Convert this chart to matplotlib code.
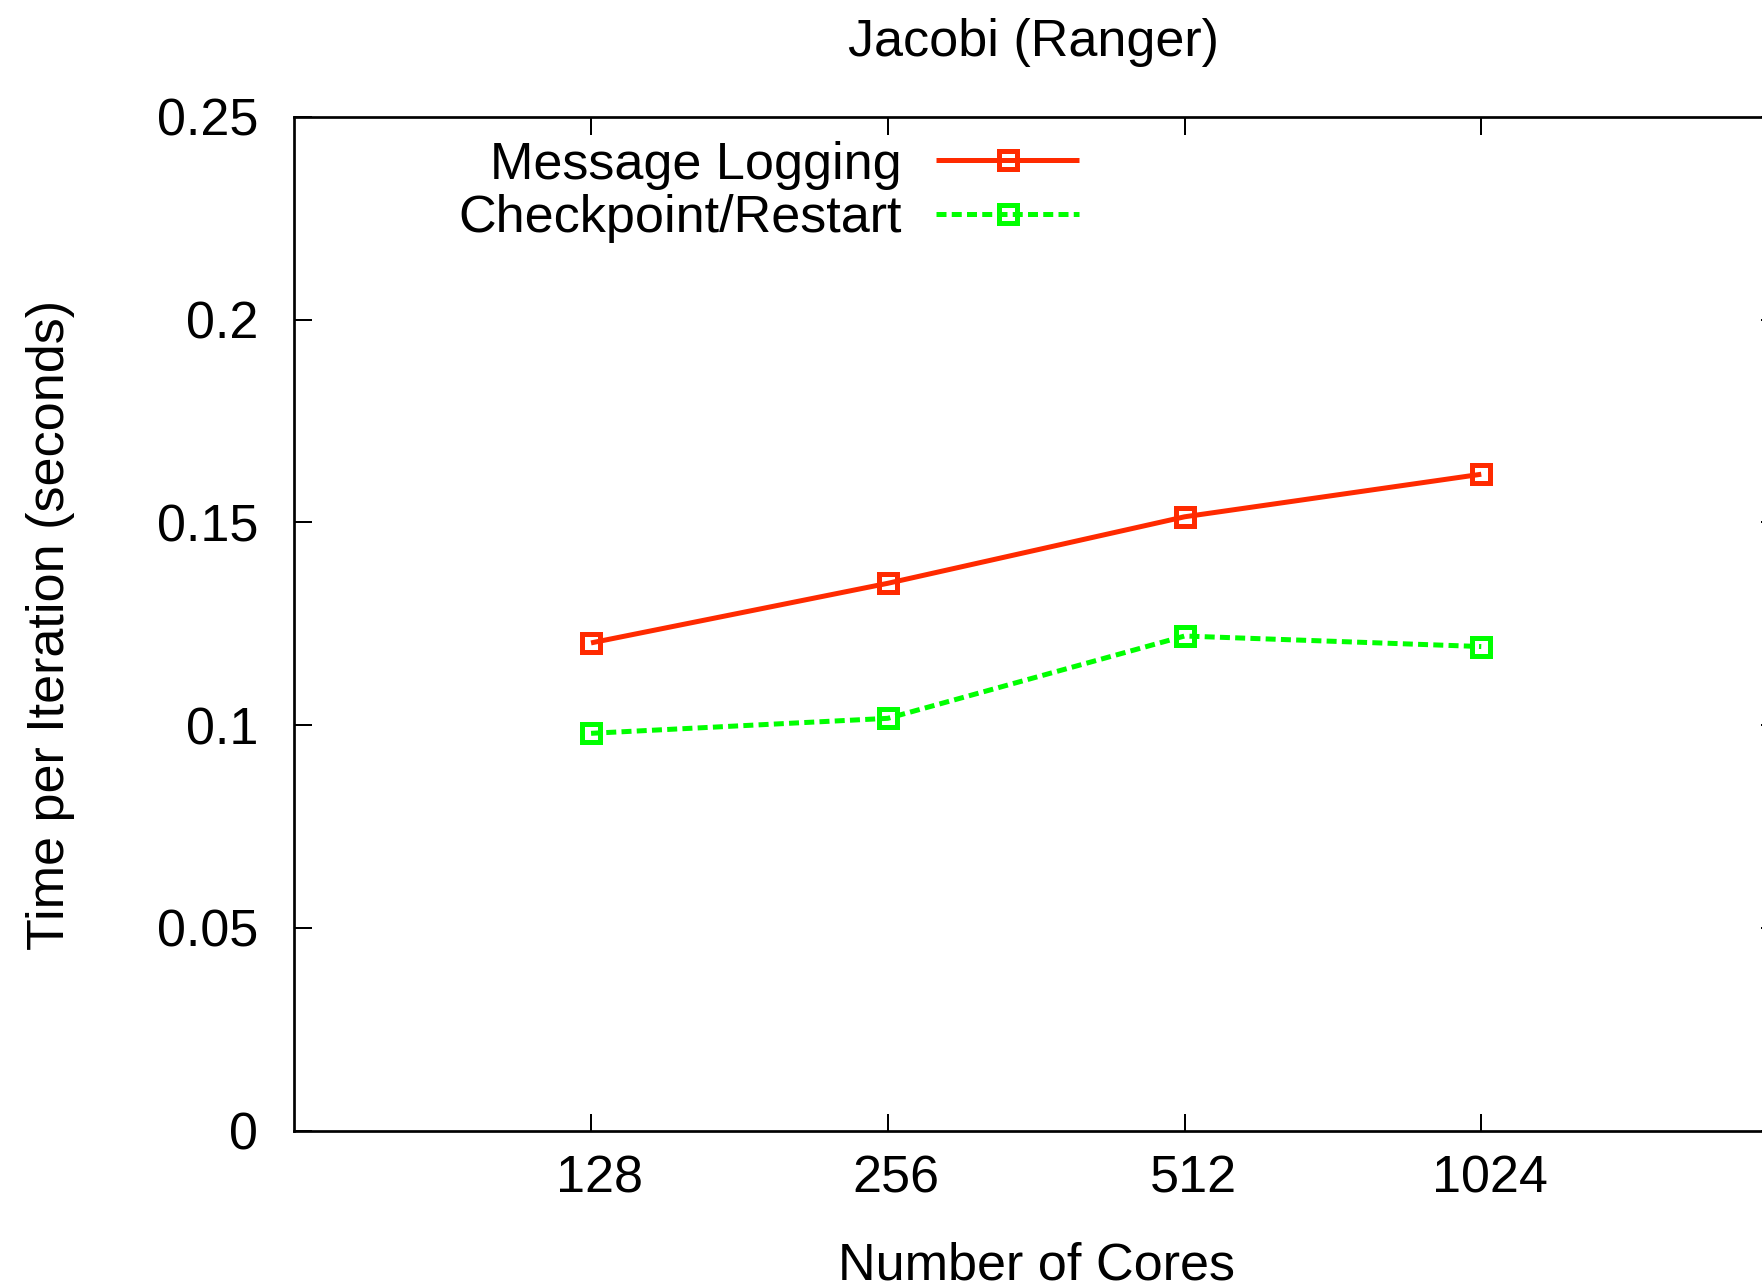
import matplotlib
matplotlib.use("Agg")
import matplotlib.pyplot as plt
from matplotlib.ticker import FixedLocator, FixedFormatter, NullLocator
from matplotlib.transforms import ScaledTranslation

# Data
cores = [128, 256, 512, 1024]
core_labels = ["128", "256", "512", "1024"]
message_logging = [0.1203, 0.1350, 0.1514, 0.1619]
checkpoint_restart = [0.0980, 0.1017, 0.1220, 0.1194]
y_ticks = [0, 0.05, 0.10, 0.15, 0.20, 0.25]
y_tick_labels = ["0", "0.05", "0.1", "0.15", "0.2", "0.25"]

W, H, DPI = 1762, 1287, 100
px = 72.0 / DPI  # points per pixel

plt.rcParams["font.family"] = ["Liberation Sans", "DejaVu Sans"]
FS = 37.5

fig = plt.figure(figsize=(W / DPI, H / DPI), dpi=DPI)
left, right, bottom, top = 294.3, 1778.0, 1130.7, 117.0
ax = fig.add_axes([left / W, 1 - bottom / H, (right - left) / W, (bottom - top) / H])

red = "#ff2a00"
green = "#00ff00"
lw = 5 * px
ms = 17.5 * px
mew = 5 * px

ax.plot(cores, message_logging, color=red, lw=lw, marker="s", ms=ms, mew=mew,
        mfc="none", mec=red, label="Message Logging", solid_capstyle="butt")
ax.plot(cores, checkpoint_restart, color=green, lw=lw, ls=(0, (2.0, 1.05)),
        marker="s", ms=ms, mew=mew, mfc="none", mec=green,
        label="Checkpoint/Restart")

ax.set_xscale("log", base=2)
ax.set_xlim(64, 2048)
ax.set_ylim(0, 0.25)

ax.xaxis.set_major_locator(FixedLocator(cores))
ax.xaxis.set_major_formatter(FixedFormatter(core_labels))
ax.xaxis.set_minor_locator(NullLocator())
ax.yaxis.set_major_locator(FixedLocator(y_ticks))
ax.yaxis.set_major_formatter(FixedFormatter(y_tick_labels))
ax.yaxis.set_minor_locator(NullLocator())

ax.tick_params(axis="both", which="major", direction="in", length=17.5 * px,
               width=2.0 * px, labelsize=FS, top=True, right=True, color="black")
ax.tick_params(axis="y", pad=36 * px)
ax.tick_params(axis="x", pad=24 * px)
for sp in ax.spines.values():
    sp.set_linewidth(2.7 * px)

# shift the core-count labels slightly to the right of their ticks
shift = ScaledTranslation(8.5 / DPI, 0, fig.dpi_scale_trans)
for lab in ax.get_xticklabels():
    lab.set_transform(lab.get_transform() + shift)

fig.text(1034 / W, 1 - 56 / H, "Jacobi (Ranger)", ha="center", va="baseline", fontsize=FS)
fig.text(1036 / W, 1 - 1280 / H, "Number of Cores", ha="center", va="baseline", fontsize=FS)
fig.text(64 / W, 1 - 624.5 / H, "Time per Iteration (seconds)", ha="center", va="baseline",
         rotation=90, rotation_mode="anchor", fontsize=FS)

leg = ax.legend(loc="upper right", bbox_to_anchor=(1079 / W, 1 - 140.5 / H),
                bbox_transform=fig.transFigure, frameon=False, markerfirst=False,
                borderpad=0, borderaxespad=0, handlelength=144 / 52.5,
                handletextpad=35 / 52.5, labelspacing=0.09, fontsize=FS,
                numpoints=1)

fig.savefig("out.png", dpi=DPI)
